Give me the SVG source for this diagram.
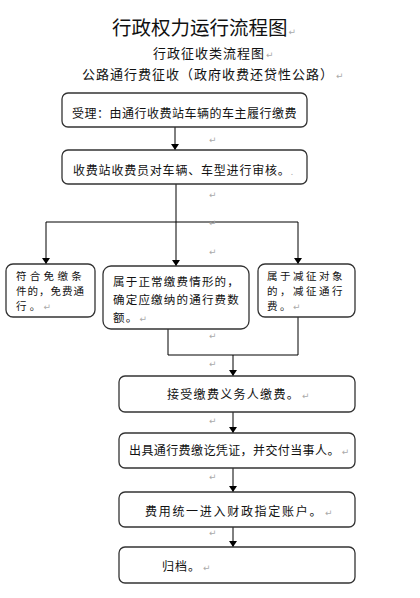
<svg xmlns="http://www.w3.org/2000/svg" width="420" height="598" viewBox="0 0 420 598">
<style>
text{font-family:"Noto Sans CJK SC","Noto Sans CJK JP",sans-serif;fill:#111}
.box{fill:#fff;stroke:#333;stroke-width:1.3}
.t{font-size:12px}
.s{font-size:10.5px}
.pm{font-size:9px;fill:#aaa;font-family:"DejaVu Sans",sans-serif}
.c{fill:none;stroke:#000;stroke-width:1}
</style>
<defs>
<marker id="ah" viewBox="0 0 6 8" refX="6" refY="4" markerWidth="6" markerHeight="8" orient="auto" markerUnits="userSpaceOnUse"><path d="M0,0 L6,4 L0,8 Z" fill="#000"/></marker>
</defs>
<rect width="420" height="598" fill="#fff"/>
<g id="titles">
<text x="112" y="35" font-size="19.5px" fill="#222">行政权力运行流程图<tspan class="pm" dx="1">↵</tspan></text>
<text x="153" y="58" font-size="13px" letter-spacing="1">行政征收类流程图<tspan class="pm" dx="1">↵</tspan></text>
<text x="82" y="79" font-size="13px" letter-spacing="1">公路通行费征收（政府收费还贷性公路）<tspan class="pm" dx="2">↵</tspan></text>
</g>
<g id="connectors">
<line class="c" x1="175" y1="127" x2="175" y2="150" marker-end="url(#ah)"/>
<line class="c" x1="176" y1="184" x2="176" y2="266" marker-end="url(#ah)"/>
<line class="c" x1="46" y1="222" x2="298" y2="222"/>
<line class="c" x1="46" y1="222" x2="46" y2="264" marker-end="url(#ah)"/>
<line class="c" x1="298" y1="222" x2="298" y2="264" marker-end="url(#ah)"/>
<polyline class="c" points="168,329 168,355 298,355 298,317"/>
<line class="c" x1="233" y1="355" x2="233" y2="376" marker-end="url(#ah)"/>
<line class="c" x1="233" y1="412" x2="233" y2="433" marker-end="url(#ah)"/>
<line class="c" x1="233" y1="468" x2="233" y2="492" marker-end="url(#ah)"/>
<line class="c" x1="233" y1="527" x2="233" y2="547" marker-end="url(#ah)"/>
</g>
<g id="marks">
<text class="pm" x="209" y="143">↵</text>
<text class="pm" x="209" y="198">↵</text>
<text class="pm" x="209" y="226">↵</text>
<text class="pm" x="209" y="255">↵</text>
<text class="pm" x="209" y="339">↵</text>
<text class="pm" x="209" y="367">↵</text>
<text class="pm" x="209" y="424">↵</text>
<text class="pm" x="209" y="480">↵</text>
<text class="pm" x="209" y="536">↵</text>
</g>
<g id="n1">
<rect class="box" x="62" y="93" width="245" height="34" rx="6"/>
<text class="t" x="72" y="117.5" letter-spacing="0.5">受理：由通行收费站车辆的车主履行缴费</text>
</g>
<g id="n2">
<rect class="box" x="62" y="150" width="245" height="34" rx="6"/>
<text class="t" x="73" y="174.5" letter-spacing="0.8">收费站收费员对车辆、车型进行审核。<tspan class="pm">.</tspan></text>
</g>
<g id="n3">
<rect class="box" x="6" y="264" width="89" height="53" rx="7"/>
<text class="s" x="16" y="280" letter-spacing="3.3">符合免缴条</text>
<text class="s" x="16" y="295" letter-spacing="1">件的，免费通</text>
<text class="s" x="16" y="310" letter-spacing="3.3">行。<tspan class="pm" dx="0">↵</tspan></text>
</g>
<g id="n4">
<rect class="box" x="103" y="266" width="146" height="63" rx="8"/>
<text x="113" y="286" font-size="11.5px" letter-spacing="1.2">属于正常缴费情形的，</text>
<text x="113" y="304" font-size="11.5px" letter-spacing="1.2">确定应缴纳的通行费数</text>
<text x="113" y="322" font-size="11.5px" letter-spacing="1.2">额。<tspan class="pm" dx="1">↵</tspan></text>
</g>
<g id="n5">
<rect class="box" x="258" y="264" width="97" height="53" rx="7"/>
<text class="s" x="267" y="280" letter-spacing="2.5">属于减征对象</text>
<text class="s" x="267" y="295" letter-spacing="2.5">的，减征通行</text>
<text class="s" x="267" y="310" letter-spacing="2.5">费。<tspan class="pm" dx="0">↵</tspan></text>
</g>
<g id="n6">
<rect class="box" x="119" y="376" width="236" height="36" rx="6"/>
<text class="t" x="167" y="399" letter-spacing="1.3">接受缴费义务人缴费。<tspan class="pm" dx="2">↵</tspan></text>
</g>
<g id="n7">
<rect class="box" x="119" y="433" width="236" height="35" rx="6"/>
<text class="t" x="129" y="455" letter-spacing="0.4">出具通行费缴讫凭证，并交付当事人。<tspan class="pm" dx="2">↵</tspan></text>
</g>
<g id="n8">
<rect class="box" x="119" y="492" width="236" height="35" rx="6"/>
<text class="t" x="145" y="516" letter-spacing="1.7">费用统一进入财政指定账户。<tspan class="pm" dx="2">↵</tspan></text>
</g>
<g id="n9">
<rect class="box" x="119" y="547" width="236" height="36" rx="6"/>
<text class="t" x="162" y="571" letter-spacing="1">归档。<tspan class="pm" dx="2">↵</tspan></text>
</g>
</svg>
